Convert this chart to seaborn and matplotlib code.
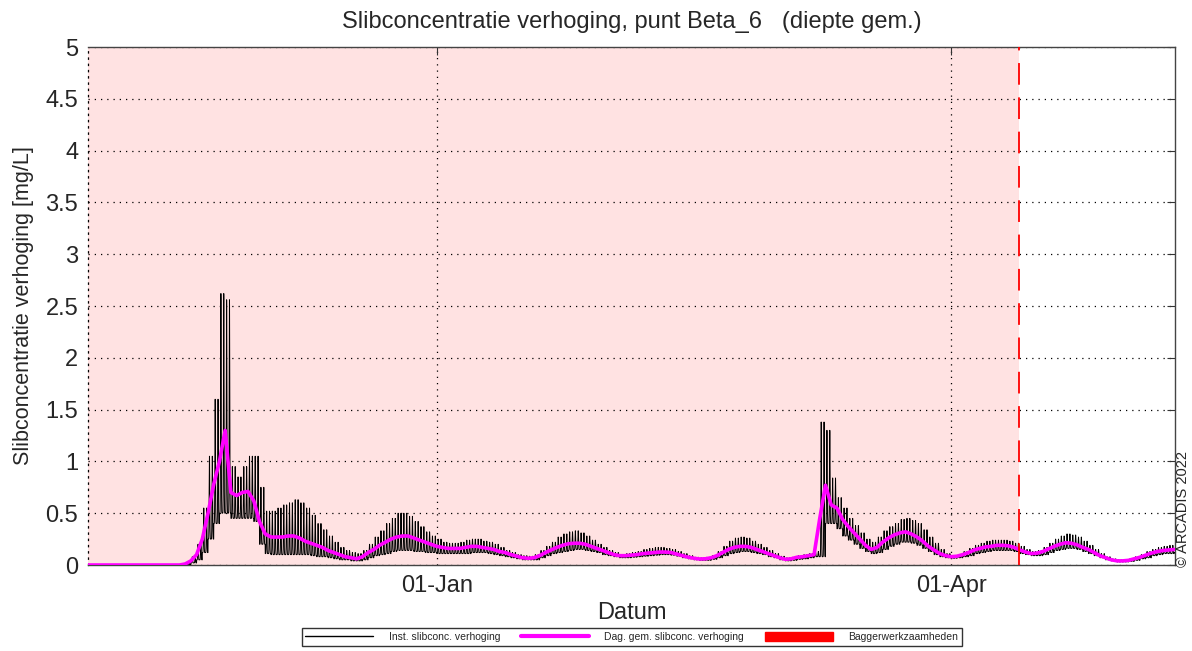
import numpy as np
import pandas as pd
import matplotlib
matplotlib.use("Agg")
import matplotlib.pyplot as plt
import matplotlib.dates as mdates
from matplotlib.lines import Line2D
from matplotlib.patches import Patch
import seaborn as sns

# ---- data ---------------------------------------------------------------
start_date = "2021-11-01"
end_date = "2022-05-10 03:00"
dredge_start = "2021-11-01"
dredge_end = "2022-04-12 22:00"
tick_dates = ["2022-01-01", "2022-04-01"]
y_ticks = [0, 0.5, 1, 1.5, 2, 2.5, 3, 3.5, 4, 4.5, 5]
y_tick_labels = ["0", "0.5", "1", "1.5", "2", "2.5", "3", "3.5", "4", "4.5", "5"]

# daily mean concentration increase [mg/L], one value per day from 1 Nov
day_mean = [0.0] * 17 + [
    0.01, 0.04, 0.10, 0.25, 0.50, 0.78, 1.00, 1.30, 0.70, 0.67, 0.70, 0.71, 0.62, 0.42,
    0.30, 0.27, 0.27, 0.27, 0.28, 0.28, 0.26, 0.23, 0.21, 0.19,
    0.17, 0.14, 0.12, 0.10, 0.08, 0.07, 0.06, 0.08, 0.12, 0.15,
    0.19, 0.22, 0.25, 0.27, 0.28, 0.28, 0.26, 0.24, 0.22, 0.20,
    0.18, 0.17, 0.16, 0.16, 0.16, 0.17, 0.18, 0.18, 0.17, 0.16,
    0.15, 0.13, 0.12, 0.10, 0.085, 0.07, 0.065, 0.07, 0.09, 0.12,
    0.145, 0.17, 0.19, 0.205, 0.21, 0.21, 0.20, 0.18, 0.16, 0.14,
    0.12, 0.10, 0.09, 0.09, 0.095, 0.10, 0.11, 0.115, 0.12, 0.125,
    0.125, 0.12, 0.105, 0.09, 0.075, 0.065, 0.058, 0.06, 0.07, 0.09,
    0.12, 0.15, 0.17, 0.18, 0.18, 0.17, 0.15, 0.13, 0.11, 0.09,
    0.07, 0.055, 0.06, 0.075, 0.08, 0.09, 0.10, 0.45, 0.77, 0.58,
    0.55, 0.44, 0.37, 0.31, 0.25, 0.19, 0.15, 0.17, 0.22, 0.26,
    0.29, 0.31, 0.32, 0.30, 0.27, 0.23, 0.18, 0.145, 0.11, 0.09,
    0.08, 0.085, 0.10, 0.12, 0.145, 0.16, 0.175, 0.18, 0.19, 0.19,
    0.185, 0.17, 0.145, 0.125, 0.11, 0.115, 0.13, 0.155, 0.18, 0.20,
    0.215, 0.21, 0.195, 0.17, 0.15, 0.12, 0.09, 0.07, 0.05, 0.04,
    0.04, 0.045, 0.06, 0.075, 0.095, 0.115, 0.13, 0.14, 0.145, 0.15,
]

# daily maximum of the instantaneous record [mg/L]
day_high = [0.0] * 17 + [
    0.02, 0.08, 0.20, 0.55, 1.05, 1.60, 2.62, 2.56, 0.95, 0.85, 0.95, 1.05, 1.05, 0.75,
    0.52, 0.52, 0.55, 0.58, 0.60, 0.63, 0.60, 0.55, 0.48, 0.40,
    0.34, 0.28, 0.22, 0.17, 0.14, 0.12, 0.11, 0.14, 0.20, 0.27,
    0.33, 0.40, 0.45, 0.50, 0.50, 0.47, 0.42, 0.37, 0.32, 0.28,
    0.25, 0.22, 0.21, 0.21, 0.22, 0.24, 0.25, 0.25, 0.23, 0.22,
    0.20, 0.17, 0.14, 0.12, 0.10, 0.09, 0.085, 0.10, 0.14, 0.18,
    0.22, 0.27, 0.30, 0.32, 0.33, 0.31, 0.28, 0.24, 0.20, 0.17,
    0.14, 0.12, 0.10, 0.11, 0.12, 0.13, 0.15, 0.16, 0.17, 0.17,
    0.16, 0.15, 0.13, 0.11, 0.09, 0.075, 0.07, 0.075, 0.09, 0.13,
    0.18, 0.23, 0.26, 0.27, 0.26, 0.23, 0.20, 0.17, 0.14, 0.11,
    0.085, 0.07, 0.075, 0.09, 0.10, 0.11, 0.13, 1.38, 1.30, 0.84,
    0.65, 0.55, 0.45, 0.38, 0.31, 0.25, 0.22, 0.27, 0.33, 0.37,
    0.40, 0.44, 0.45, 0.43, 0.40, 0.34, 0.27, 0.21, 0.15, 0.11,
    0.09, 0.10, 0.13, 0.16, 0.19, 0.21, 0.23, 0.24, 0.24, 0.24,
    0.23, 0.21, 0.18, 0.15, 0.13, 0.14, 0.17, 0.21, 0.25, 0.28,
    0.30, 0.29, 0.27, 0.23, 0.19, 0.15, 0.11, 0.08, 0.06, 0.05,
    0.05, 0.06, 0.08, 0.10, 0.13, 0.15, 0.17, 0.18, 0.19, 0.19,
]

# daily minimum of the instantaneous record [mg/L]
day_low = [0.0] * 17 + [
    0.0, 0.02, 0.05, 0.12, 0.25, 0.40, 0.50, 0.50, 0.45, 0.45, 0.45, 0.45, 0.42, 0.20,
    0.11, 0.10, 0.10, 0.10, 0.10, 0.10, 0.10, 0.10, 0.09, 0.08,
    0.08, 0.07, 0.06, 0.05, 0.05, 0.04, 0.04, 0.05, 0.07, 0.09,
    0.10, 0.11, 0.13, 0.14, 0.14, 0.14, 0.13, 0.13, 0.12, 0.12,
    0.11, 0.11, 0.11, 0.11, 0.11, 0.11, 0.12, 0.12, 0.12, 0.11,
    0.10, 0.09, 0.08, 0.07, 0.06, 0.05, 0.05, 0.05, 0.07, 0.09,
    0.11, 0.12, 0.13, 0.14, 0.15, 0.15, 0.14, 0.13, 0.12, 0.10,
    0.09, 0.08, 0.07, 0.07, 0.075, 0.08, 0.085, 0.09, 0.095, 0.10,
    0.10, 0.095, 0.085, 0.07, 0.06, 0.05, 0.045, 0.045, 0.055, 0.07,
    0.09, 0.11, 0.12, 0.13, 0.13, 0.12, 0.11, 0.10, 0.08, 0.07,
    0.05, 0.04, 0.045, 0.055, 0.06, 0.07, 0.08, 0.08, 0.40, 0.40,
    0.35, 0.28, 0.24, 0.20, 0.16, 0.13, 0.11, 0.12, 0.15, 0.18,
    0.20, 0.22, 0.22, 0.21, 0.19, 0.16, 0.13, 0.10, 0.08, 0.07,
    0.065, 0.07, 0.08, 0.09, 0.11, 0.12, 0.13, 0.14, 0.14, 0.14,
    0.14, 0.13, 0.11, 0.10, 0.09, 0.09, 0.10, 0.12, 0.14, 0.15,
    0.16, 0.16, 0.15, 0.13, 0.11, 0.09, 0.07, 0.05, 0.04, 0.03,
    0.03, 0.035, 0.045, 0.06, 0.07, 0.09, 0.10, 0.11, 0.11, 0.12,
]

# ---- series -------------------------------------------------------------
n_days = len(day_mean)
daily = pd.DataFrame({
    "datum": pd.date_range(start_date, periods=n_days, freq="D"),
    "conc": day_mean,
})

# instantaneous record: two sharp tidal peaks per day between daily low and high
samples_per_day = 96
t = np.arange(n_days * samples_per_day) / samples_per_day
day_idx = np.floor(t).astype(int)
tide = ((1.0 - np.cos(4.0 * np.pi * t)) / 2.0) ** 5
low = np.asarray(day_low)[day_idx]
high = np.asarray(day_high)[day_idx]
inst = pd.DataFrame({
    "datum": pd.Timestamp(start_date) + pd.to_timedelta(t, unit="D"),
    "conc": low + (high - low) * tide,
})

# ---- figure -------------------------------------------------------------
sns.set_style("white")
plt.rcParams["font.family"] = ["Liberation Sans", "DejaVu Sans"]

fig = plt.figure(figsize=(11.92, 6.51), dpi=100)
ax = fig.add_axes([0.0738, 0.1321, 0.9119, 0.7957])

ax.axvspan(pd.Timestamp(dredge_start), pd.Timestamp(dredge_end),
           color="red", alpha=0.115, lw=0, zorder=0)

sns.lineplot(data=inst, x="datum", y="conc", ax=ax, color="black",
             lw=0.7, estimator=None, sort=False, zorder=3)
sns.lineplot(data=daily, x="datum", y="conc", ax=ax, color="#ff00ff",
             lw=2.6, estimator=None, sort=False, zorder=4)

ax.axvline(pd.Timestamp(dredge_end), color="red", lw=1.3,
           dashes=(12, 7), zorder=5)

ax.set_xlim(pd.Timestamp(start_date), pd.Timestamp(end_date))
ax.set_ylim(0, 5)
ax.set_xticks([pd.Timestamp(d) for d in tick_dates])
ax.xaxis.set_major_formatter(mdates.DateFormatter("%d-%b"))
ax.set_yticks(y_ticks)
ax.set_yticklabels(y_tick_labels)

ax.set_axisbelow("line")
ax.grid(True, color="black", linestyle=(0, (1, 4)), lw=0.9)

ax.tick_params(direction="in", top=True, right=True, length=6,
               width=0.8, labelsize=17, color="#333333", pad=7)
for side in ["top", "right", "bottom"]:
    ax.spines[side].set_color("#444444")
    ax.spines[side].set_linewidth(1.0)
ax.spines["left"].set_color("black")
ax.spines["left"].set_linestyle((0, (1, 4)))
ax.spines["left"].set_linewidth(0.9)

ax.set_title("Slibconcentratie verhoging, punt Beta_6   (diepte gem.)",
             fontsize=17, pad=14)
ax.set_xlabel("Datum", fontsize=17, labelpad=4)
ax.set_ylabel("Slibconcentratie verhoging [mg/L]", fontsize=15.5, labelpad=8)

handles = [
    Line2D([], [], color="black", lw=1.0),
    Line2D([], [], color="#ff00ff", lw=3.0),
    Patch(facecolor="red", edgecolor="red"),
]
labels = ["Inst. slibconc. verhoging", "Dag. gem. slibconc. verhoging",
          "Baggerwerkzaamheden"]
leg = fig.legend(handles, labels, loc="lower center", bbox_to_anchor=(0.53, 0.0),
                 ncol=3, frameon=True, fancybox=False,
                 edgecolor="black", handlelength=6.5, handleheight=1.0,
                 columnspacing=2.0, borderpad=0.35, handletextpad=1.5,
                 prop={"family": ["Liberation Sans Narrow", "Liberation Sans"], "size": 7.5})
leg.get_frame().set_linewidth(1.0)

fig.text(0.9925, 0.129, "\u00a9 ARCADIS 2022", rotation=90, fontsize=10.5,
         ha="center", va="bottom")

fig.savefig("out.png", dpi=100)
